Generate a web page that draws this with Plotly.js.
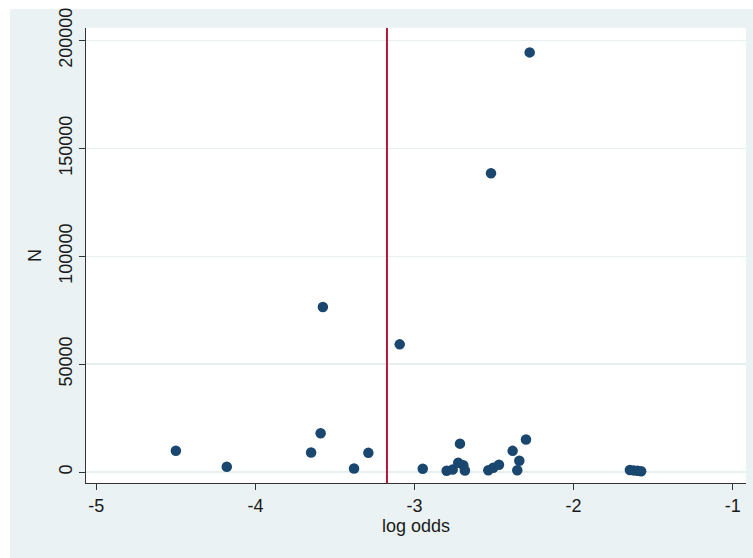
<!DOCTYPE html>
<html>
<head>
<meta charset="utf-8">
<script src="https://cdn.plot.ly/plotly-3.0.1.min.js"></script>
<style>html,body{margin:0;padding:0;background:#fff;}#chart{width:753px;height:558px;}</style>
</head>
<body>
<div id="chart"></div>
<script>
// Study estimates: log odds vs sample size N
const logOdds = [-4.50, -4.18, -3.65, -3.59, -3.38, -3.29, -3.576, -3.093, -2.276, -2.519,
                 -2.948, -2.714, -2.798, -2.760, -2.725, -2.693, -2.683, -2.536, -2.505, -2.469,
                 -2.383, -2.341, -2.354, -2.299, -1.646, -1.622, -1.598, -1.575];
const sampleN = [9900, 2450, 9070, 18000, 1670, 8930, 76500, 59200, 194500, 138500,
                 1530, 13200, 600, 1200, 4300, 3200, 740, 880, 2000, 3380,
                 9860, 5230, 880, 15100, 1000, 800, 600, 400];
const pooledLogOdds = -3.173;
const xTicks = [-5, -4, -3, -2, -1];
const yTicks = [0, 50000, 100000, 150000, 200000];
const xTitle = 'log odds';
const yTitle = 'N';

const font = {family: '"Liberation Sans", Arial, sans-serif', color: '#1a1a1a', size: 18};

const trace = {
  type: 'scatter', mode: 'markers',
  x: logOdds, y: sampleN,
  marker: {color: '#1A476F', size: 10.5, line: {width: 0}},
  hoverinfo: 'x+y'
};

const layout = {
  width: 753, height: 558,
  margin: {l: 86, r: 7, t: 28, b: 74.5},
  paper_bgcolor: '#EAF2F3',
  plot_bgcolor: '#FFFFFF',
  showlegend: false,
  font: font,
  xaxis: {
    range: [-5.065, -0.916],
    tickvals: xTicks, ticktext: xTicks.map(String),
    showgrid: false, zeroline: false,
    showline: true, linecolor: '#333', linewidth: 1,
    ticks: 'outside', ticklen: 6, tickcolor: '#333',
    tickfont: {size: 18},
    title: {text: xTitle, font: {size: 18}, standoff: 2}
  },
  yaxis: {
    range: [-5045, 205800],
    tickvals: yTicks, ticktext: yTicks.map(String),
    tickangle: -90,
    showgrid: true, gridcolor: '#E8EFF1', gridwidth: 1.5,
    zeroline: false,
    showline: true, linecolor: '#333', linewidth: 1,
    ticks: 'outside', ticklen: 6, tickcolor: '#333',
    tickfont: {size: 18},
    title: {text: yTitle, font: {size: 18}, standoff: 9}
  },
  shapes: [
    {type: 'rect', xref: 'paper', yref: 'paper', x0: -0.14, x1: 1.02, y0: 1.0417, y1: 1.07,
     fillcolor: '#FFFFFF', line: {width: 0}, layer: 'below'},
    {type: 'rect', xref: 'paper', yref: 'paper', x0: -0.14, x1: -0.1152, y0: -0.2, y1: 1.07,
     fillcolor: '#FFFFFF', line: {width: 0}, layer: 'below'},
    {type: 'line', xref: 'x', yref: 'paper', x0: pooledLogOdds, x1: pooledLogOdds, y0: 0, y1: 1,
     line: {color: '#B5173A', width: 2}}
  ]
};

Plotly.newPlot('chart', [trace], layout, {displayModeBar: false, staticPlot: true});
</script>
</body>
</html>
